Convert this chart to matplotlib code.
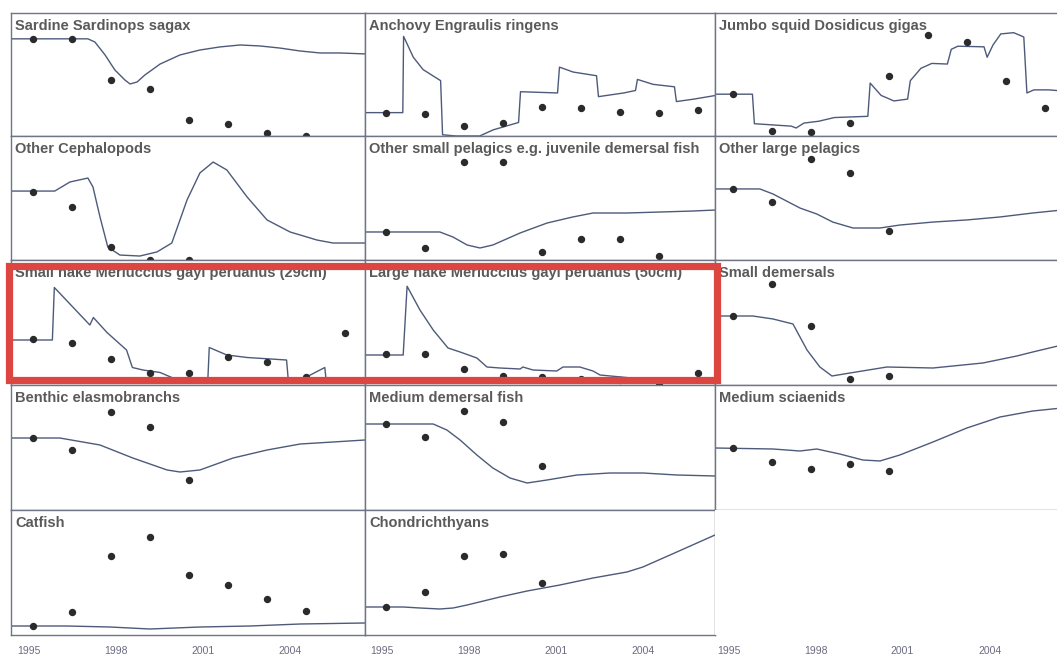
import numpy as np
from matplotlib import pyplot as plt
from matplotlib.patches import Rectangle

nan = np.nan

# survey / observation years (dots)
obs_years = [1995, 1996, 1997, 1998, 1999, 2000, 2001, 2002, 2003]

tick_labels = ["1995", "1998", "2001", "2004"]
tick_pos = [1994.9, 1997.12, 1999.35, 2001.6]

# model output (line) and observations (dots), relative biomass 0-100 per panel
sardine_t = [1994.44, 1996.41, 1996.59, 1996.85, 1997.10, 1997.36, 1997.49, 1997.67, 1997.87, 1998.26,
             1998.77, 1999.28, 1999.79, 2000.31, 2000.82, 2001.33, 2001.85, 2002.36, 2002.87, 2003.54]
sardine_v = [79, 79, 76.4, 65.9, 53.7, 45.5, 42.3, 43.9, 49.6, 58.5,
             65.9, 69.9, 72.4, 74, 73.2, 71.5, 69.1, 67.5, 67.5, 66.7]
sardine_obs = [79, 79, 45.5, 38, 13, 10, 2.4, 0, nan]

anchovy_t = [1994.44, 1995.43, 1995.45, 1995.7, 1995.95, 1996.4, 1996.45, 1996.8, 1997.4, 1997.75,
             1998.4, 1998.45, 1999.4, 1999.45, 1999.8, 2000.4, 2000.45, 2001.1, 2001.4, 2001.45,
             2001.85, 2002.4, 2002.45, 2002.9, 2003.46]
anchovy_v = [19, 19, 81, 64, 54, 45, 1, 0, 0, 5,
             11, 36, 35, 56, 52, 49, 32, 35, 37, 46,
             42, 40, 28, 30, 33]
anchovy_obs = [18.7, 17.9, 8.1, 10.6, 23.6, 22.8, 19.5, 18.7, 21.1]

squid_t = [1994.54, 1995.5, 1995.55, 1996.5, 1996.62, 1996.82, 1997.2, 1997.6, 1998.46, 1998.52,
           1998.8, 1999.13, 1999.48, 1999.55, 1999.82, 2000.1, 2000.5, 2000.6, 2000.77, 2001.44,
           2001.52, 2001.67, 2001.87, 2002.2, 2002.46, 2002.54, 2002.72, 2003.1, 2003.5]
squid_v = [34, 34, 10, 8, 6.5, 10.5, 12, 15, 16, 43,
           33, 28.5, 30, 45, 55, 59, 58.5, 70.5, 73, 72.5,
           64, 74, 83, 84, 80.5, 35, 37.5, 37.5, 36.5]
squid_obs = [34, 4, 3.3, 10.6, 48.8, 82, 76.4, 44.7, 22.8]

cephal_t = [1994.44, 1995.56, 1995.95, 1996.41, 1996.54, 1996.72, 1996.92, 1997.23, 1997.74, 1998.18,
            1998.56, 1998.95, 1999.28, 1999.62, 1999.97, 2000.49, 2001.0, 2001.59, 2002.28, 2002.69, 2003.51]
cephal_v = [55.6, 55.6, 62.9, 66.1, 58.9, 34.7, 10.5, 4, 3.2, 6.5,
            13.7, 48.4, 70.2, 79, 72.6, 50.8, 32.3, 22.6, 16.1, 13.7, 13.7]
cephal_obs = [54.8, 42.7, 10.5, 0, 0, nan, nan, nan, nan]

smallpel_t = [1994.46, 1996.38, 1996.72, 1997.08, 1997.41, 1997.74, 1998.44, 1999.13, 1999.79, 2000.31,
              2001.18, 2002.03, 2002.87, 2003.44]
smallpel_v = [22.6, 22.6, 18.5, 12.1, 9.7, 12.1, 21.8, 29.8, 34.7, 37.9,
              37.9, 38.7, 39.5, 40.3]
smallpel_obs = [22.6, 9.7, 79, 79, 6.5, 16.9, 16.9, 3.2, nan]

largepel_t = [1994.54, 1995.69, 1996.03, 1996.72, 1997.15, 1997.56, 1998.08, 1998.77, 1999.28, 2000.13,
              2001.0, 2001.85, 2002.69, 2003.44]
largepel_v = [57.3, 57.3, 53.2, 41.9, 37.1, 30.6, 25.8, 25.8, 28.2, 30.6,
              32.3, 34.7, 37.9, 40.3]
largepel_obs = [57.3, 46.8, 81.5, 70.2, 23.4, nan, nan, nan, nan]

smallhake_t = [1994.44, 1995.5, 1995.55, 1996.46, 1996.55, 1996.9, 1997.4, 1997.55, 1997.82, 1998.26,
               1998.56, 1998.7, 1999.48, 1999.52, 1999.97, 2000.49, 2001.5, 2001.55, 2001.8, 2002.48,
               2002.52, 2003.51]
smallhake_v = [36, 36, 78, 48, 54, 42, 28, 14, 12, 10,
               6, 2, 2, 30, 24, 22, 20, 2, 3, 14,
               2, 2]
smallhake_obs = [36.8, 33.6, 20.8, 9.6, 9.6, 22.4, 18.4, 6.4, 41.6]

largehake_t = [1994.46, 1995.44, 1995.54, 1995.87, 1996.21, 1996.59, 1996.9, 1997.33, 1997.59, 1997.92,
               1998.44, 1998.51, 1998.77, 1999.38, 1999.54, 1999.97, 2000.31, 2000.49, 2001.5, 2003.44]
largehake_v = [24, 24, 79, 60, 44, 29.6, 26.4, 21.6, 14.4, 13.6,
               12.8, 14.4, 12, 11.2, 14.4, 14.4, 11.2, 8, 5, 4]
largehake_obs = [24.8, 24.8, 12.8, 7.2, 6.4, 5, 4, 1.6, 9.6]

smalldem_t = [1994.54, 1995.51, 1996.03, 1996.54, 1996.9, 1997.23, 1997.54, 1998.0, 1998.95, 2000.13,
              2001.41, 2002.28, 2002.69, 2003.44]
smalldem_v = [55.2, 55.2, 52.8, 48.8, 28, 14.4, 7.2, 9.6, 14.4, 13.6,
              17.6, 23.2, 26.4, 32]
smalldem_obs = [55.2, 80.8, 47.2, 4.8, 7.2, nan, nan, nan, nan]

benthic_t = [1994.44, 1995.69, 1996.72, 1997.56, 1998.44, 1998.77, 1999.28, 2000.13, 2001.0, 2001.85,
             2002.69, 2003.51]
benthic_v = [57.6, 57.6, 52, 41.6, 32, 30.4, 32, 41.6, 48, 52.8, 54.4, 56]
benthic_obs = [57.6, 48, 78.4, 66.4, 24, nan, nan, nan, nan]

meddem_t = [1994.46, 1996.21, 1996.56, 1996.9, 1997.33, 1997.74, 1998.18, 1998.62, 1999.13, 1999.9,
            2000.74, 2001.59, 2002.46, 2003.44]
meddem_v = [68.8, 68.8, 64, 56, 44, 33.6, 25.6, 21.6, 24, 28,
            29.6, 29.6, 28, 27.2]
meddem_obs = [68.8, 58.4, 79.2, 70.4, 35.2, nan, nan, nan, nan]

sciaenid_t = [1994.54, 1996.03, 1996.72, 1997.15, 1997.74, 1998.33, 1998.77, 1999.28, 2000.13, 2001.0,
              2001.85, 2002.69, 2003.44]
sciaenid_v = [49.6, 48.8, 47.2, 48.8, 44.8, 40, 39.2, 44, 54.4, 65.6,
              74.4, 79.2, 81.6]
sciaenid_obs = [49.6, 38.4, 32.8, 36.8, 31.2, nan, nan, nan, nan]

catfish_t = [1994.44, 1995.87, 1996.97, 1998.0, 1999.28, 2000.56, 2001.85, 2003.51]
catfish_v = [7.2, 7.2, 6.4, 4.8, 6.4, 7.2, 8.8, 9.6]
catfish_obs = [7.2, 18.4, 63.2, 78.4, 48, 40, 28.8, 19.2, nan]

chondr_t = [1994.46, 1995.44, 1995.87, 1996.38, 1996.72, 1997.08, 1997.92, 1998.62, 1999.46, 2000.31,
            2001.18, 2001.59, 2002.46, 2003.44]
chondr_v = [22.4, 22.4, 21.6, 20.8, 21.6, 24, 30.4, 35.2, 40, 45.6,
            50.4, 54.4, 66.4, 80]
chondr_obs = [22.4, 34.4, 63.2, 64.8, 41.6, nan, nan, nan, nan]

titles = [
    "Sardine Sardinops sagax", "Anchovy Engraulis ringens", "Jumbo squid Dosidicus gigas",
    "Other Cephalopods", "Other small pelagics e.g. juvenile demersal fish", "Other large pelagics",
    "Small hake Merluccius gayi peruanus (29cm)", "Large hake Merluccius gayi peruanus (50cm)", "Small demersals",
    "Benthic elasmobranchs", "Medium demersal fish", "Medium sciaenids",
    "Catfish", "Chondrichthyans",
]
series = [
    (sardine_t, sardine_v, sardine_obs), (anchovy_t, anchovy_v, anchovy_obs), (squid_t, squid_v, squid_obs),
    (cephal_t, cephal_v, cephal_obs), (smallpel_t, smallpel_v, smallpel_obs), (largepel_t, largepel_v, largepel_obs),
    (smallhake_t, smallhake_v, smallhake_obs), (largehake_t, largehake_v, largehake_obs), (smalldem_t, smalldem_v, smalldem_obs),
    (benthic_t, benthic_v, benthic_obs), (meddem_t, meddem_v, meddem_obs), (sciaenid_t, sciaenid_v, sciaenid_obs),
    (catfish_t, catfish_v, catfish_obs), (chondr_t, chondr_v, chondr_obs),
]

W, H = 1057, 657
col_edges = [11, 365, 715, 1062]
row_edges = [13, 136, 260, 385, 510, 635]
xlims = [(1994.44, 2003.51), (1994.46, 2003.44), (1994.54, 2003.44)]

fig = plt.figure(figsize=(W / 100, H / 100), dpi=100)
fig.patch.set_facecolor("white")

frame_col = "#6f7586"
for i in range(15):
    r, c = divmod(i, 3)
    x0, x1 = col_edges[c], col_edges[c + 1]
    y0, y1 = row_edges[r], row_edges[r + 1]
    ax = fig.add_axes([x0 / W, 1 - y1 / H, (x1 - x0) / W, (y1 - y0) / H])
    ax.set_xlim(*xlims[c])
    ax.set_ylim(0, 100)
    ax.set_yticks([])
    for s in ax.spines.values():
        s.set_color(frame_col)
        s.set_linewidth(1.0)
    if r == 4:
        ax.set_xticks(tick_pos)
        ax.set_xticklabels(tick_labels)
        ax.tick_params(axis="x", length=0, pad=8, labelsize=7.5, labelcolor="#6b6b80")
        for lab in ax.get_xticklabels():
            lab.set_family("Liberation Sans")
    else:
        ax.set_xticks([])
    if i >= len(series):
        # empty slot: only the top/left borders come from neighbours
        for s in ax.spines.values():
            s.set_visible(False)
        continue
    t, v, obs = series[i]
    ax.plot(t, v, color="#4d5a7a", lw=1.0)
    ax.plot(obs_years, obs, "o", color="#2b2b2b", ms=4.3, clip_on=False, zorder=3)
    ax.text(0.012, 0.95, titles[i], transform=ax.transAxes, va="top", ha="left",
            fontsize=10.5, fontweight="bold", color="#5a5a5a", family="Liberation Sans")

# red box around the two hake panels
fig.patches.append(Rectangle((9 / W, 1 - 380 / H), (717 - 9) / W, (380 - 266) / H,
                             transform=fig.transFigure, fill=False, edgecolor="#dd4640",
                             lw=5.2, zorder=10))

plt.savefig("out.png", dpi=100)
plt.close()
